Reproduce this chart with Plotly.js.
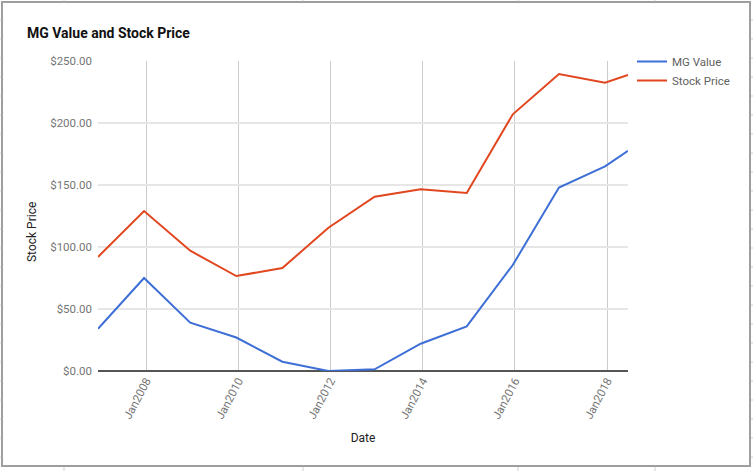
<!DOCTYPE html>
<html>
<head>
<meta charset="utf-8">
<script src="https://cdn.plot.ly/plotly-3.0.1.min.js"></script>
<style>
  html, body { margin: 0; padding: 0; background: #ffffff; }
  #chart { width: 753px; height: 471px; }
</style>
</head>
<body>
<div id="chart"></div>
<script>
// ---- Data ----
var dates = ['2006-12-15', '2007-12-15', '2008-12-15', '2009-12-15', '2010-12-15',
             '2011-12-15', '2012-12-15', '2013-12-15', '2014-12-15', '2015-12-15',
             '2016-12-15', '2017-12-15', '2018-06-15'];
var mgValue    = [34, 75, 39, 27, 7.5, 0, 1.4, 22, 36, 85.5, 148, 165, 177.5];
var stockPrice = [92, 129, 97, 76.6, 83, 115.5, 140.5, 146.5, 143.5, 207, 239.5, 232.5, 238.7];
var seriesNames = ['MG Value', 'Stock Price'];
var chartTitle = 'MG Value and Stock Price';
var xTitle = 'Date';
var yTitle = 'Stock Price';

// ---- Layout geometry (pixels) ----
var W = 753, H = 471;
var L = 98, R = 628, T = 61, B = 371;
function px(x) { return (x - L) / (R - L); }
function py(y) { return (B - y) / (B - T); }

var shapes = [];
// outer frame of the embedded chart
shapes.push({type: 'rect', xref: 'paper', yref: 'paper',
  x0: px(2), x1: px(750), y0: py(2), y1: py(466),
  line: {color: '#9e9e9e', width: 2}, layer: 'below'});
// spreadsheet cell ticks around the frame
[64, 303, 518, 655].forEach(function (x) {
  shapes.push({type: 'line', xref: 'paper', yref: 'paper', x0: px(x), x1: px(x), y0: py(0), y1: py(1.5),
    line: {color: '#cfcfcf', width: 1}, layer: 'below'});
  shapes.push({type: 'line', xref: 'paper', yref: 'paper', x0: px(x), x1: px(x), y0: py(467), y1: py(471),
    line: {color: '#cfcfcf', width: 1}, layer: 'below'});
});
for (var k = 0; k < 24; k++) {
  var yy = 20 + 19 * k;
  shapes.push({type: 'line', xref: 'paper', yref: 'paper', x0: px(0), x1: px(1.5), y0: py(yy), y1: py(yy),
    line: {color: '#cfcfcf', width: 1}, layer: 'below'});
  shapes.push({type: 'line', xref: 'paper', yref: 'paper', x0: px(751), x1: px(753), y0: py(yy), y1: py(yy),
    line: {color: '#cfcfcf', width: 1}, layer: 'below'});
}

var traces = [
  {x: dates, y: mgValue, name: seriesNames[0], type: 'scatter', mode: 'lines',
   line: {color: '#3d6fd6', width: 2}},
  {x: dates, y: stockPrice, name: seriesNames[1], type: 'scatter', mode: 'lines',
   line: {color: '#e2461f', width: 2}}
];

var layout = {
  width: W, height: H,
  margin: {l: L, r: W - R, t: T, b: H - B, pad: 0},
  paper_bgcolor: '#ffffff', plot_bgcolor: '#ffffff',
  font: {family: 'Roboto, Arial, sans-serif', size: 11, color: '#757575'},
  title: {text: chartTitle, x: 27 / W, xanchor: 'left', xref: 'container',
          y: 1 - 33 / H, yanchor: 'middle', yref: 'container',
          font: {family: 'Roboto, Arial, sans-serif', size: 14, color: '#111111', weight: 'bold'}},
  xaxis: {
    type: 'date', range: [dates[0], dates[dates.length - 1]],
    tick0: '2008-01-01', dtick: 'M24', tickformat: '%b%Y', tickangle: -62,
    showgrid: true, gridcolor: '#cccccc', gridwidth: 1,
    zeroline: false, showline: false, ticks: '',
    tickfont: {family: 'Roboto, Arial, sans-serif', size: 11.5, color: '#757575'},
    title: {text: xTitle, standoff: 13, font: {family: 'Roboto, Arial, sans-serif', size: 12, color: '#222222'}},
    automargin: false, fixedrange: true
  },
  yaxis: {
    range: [0, 250], dtick: 50, tickformat: '$.2f',
    showgrid: true, gridcolor: '#e6e6e6', gridwidth: 2,
    zeroline: true, zerolinecolor: '#555555', zerolinewidth: 2,
    showline: false, ticks: '', ticklabelstandoff: 5,
    tickfont: {family: 'Roboto, Arial, sans-serif', size: 11.5, color: '#757575'},
    automargin: false, fixedrange: true
  },
  showlegend: true,
  legend: {x: px(632), xanchor: 'left', y: py(47), yanchor: 'top',
           font: {family: 'Roboto, Arial, sans-serif', size: 11.5, color: '#616161'},
           bgcolor: 'rgba(0,0,0,0)', tracegroupgap: 0},
  annotations: [
    {text: yTitle, xref: 'paper', yref: 'paper', x: px(32), y: py(232), xanchor: 'center', yanchor: 'middle',
     textangle: -90, showarrow: false,
     font: {family: 'Roboto, Arial, sans-serif', size: 12, color: '#222222'}}
  ],
  shapes: shapes
};

Plotly.newPlot('chart', traces, layout, {displayModeBar: false, staticPlot: true});
</script>
</body>
</html>
